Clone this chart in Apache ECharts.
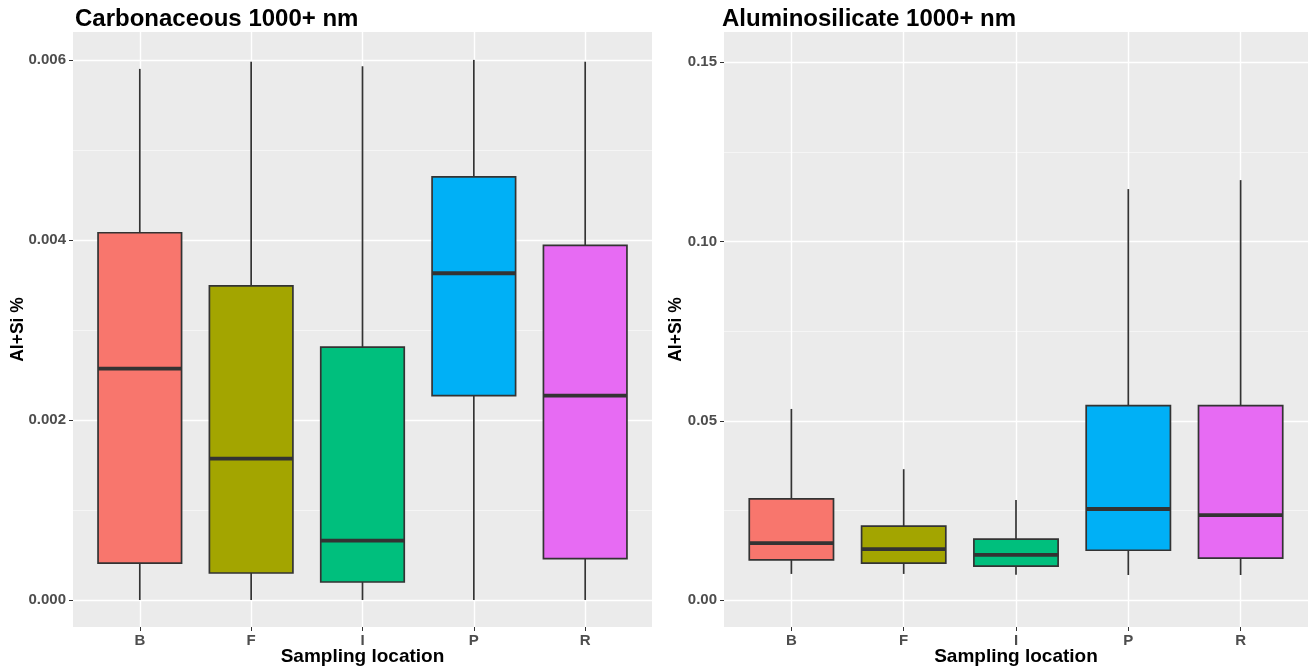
<!DOCTYPE html>
<html>
<head>
<meta charset="utf-8">
<script src="https://cdn.jsdelivr.net/npm/echarts@6/dist/echarts.min.js"></script>
<style>
html,body{margin:0;padding:0;background:#fff;}
#chart{width:1309px;height:672px;}
</style>
</head>
<body>
<div id="chart"></div>
<script>
// ---- data ----
const categories = ['B', 'F', 'I', 'P', 'R'];
const fillColors = ['#F8766D', '#A3A500', '#00BF7D', '#00B0F6', '#E76BF3'];

// Carbonaceous 1000+ nm
const carbMin    = [0.0000, 0.0000, 0.0000, 0.0000, 0.0000];
const carbQ1     = [0.00041, 0.00030, 0.00020, 0.00227, 0.00046];
const carbMedian = [0.00257, 0.00157, 0.00066, 0.00363, 0.00227];
const carbQ3     = [0.00408, 0.00349, 0.00281, 0.00470, 0.00394];
const carbMax    = [0.00590, 0.00598, 0.00593, 0.00600, 0.00598];

// Aluminosilicate 1000+ nm
const alumMin    = [0.0073, 0.0073, 0.0071, 0.0070, 0.0070];
const alumQ1     = [0.0112, 0.0103, 0.0095, 0.0139, 0.0117];
const alumMedian = [0.0159, 0.0142, 0.0126, 0.0254, 0.0237];
const alumQ3     = [0.0282, 0.0206, 0.0170, 0.0542, 0.0542];
const alumMax    = [0.0533, 0.0365, 0.0279, 0.1146, 0.1171];

const carbTicks = [0, 0.002, 0.004, 0.006];
const alumTicks = [0, 0.05, 0.10, 0.15];
const carbLabels = ['0.000', '0.002', '0.004', '0.006'];
const alumLabels = ['0.00', '0.05', '0.10', '0.15'];

const titles = ['Carbonaceous 1000+ nm', 'Aluminosilicate 1000+ nm'];
const xTitle = 'Sampling location';
const yTitle = 'Al+Si %';

// ---- build ----
function rows(mn, q1, md, q3, mx) {
  return categories.map((c, i) => [i, mn[i], q1[i], md[i], q3[i], mx[i]]);
}

function renderBox(params, api) {
  const x = api.value(0);
  const lo = api.coord([x, api.value(1)]);
  const q1 = api.coord([x, api.value(2)]);
  const md = api.coord([x, api.value(3)]);
  const q3 = api.coord([x, api.value(4)]);
  const hi = api.coord([x, api.value(5)]);
  const bw = api.size([0.75, 0])[0];
  const cx = lo[0];
  const stroke = '#333333';
  return {
    type: 'group',
    children: [
      {type: 'line', shape: {x1: cx, y1: hi[1], x2: cx, y2: q3[1]}, style: {stroke, lineWidth: 1.7}},
      {type: 'line', shape: {x1: cx, y1: q1[1], x2: cx, y2: lo[1]}, style: {stroke, lineWidth: 1.7}},
      {type: 'rect', shape: {x: cx - bw / 2, y: q3[1], width: bw, height: q1[1] - q3[1]},
        style: {fill: fillColors[x], stroke, lineWidth: 1.7}},
      {type: 'line', shape: {x1: cx - bw / 2, y1: md[1], x2: cx + bw / 2, y2: md[1]},
        style: {stroke, lineWidth: 3.8}}
    ]
  };
}

const font = '"Liberation Sans", Arial, sans-serif';

function xAxisDef(gi) {
  return {
    gridIndex: gi, type: 'value', min: -0.6, max: 4.6, splitNumber: 5,
    name: xTitle, nameLocation: 'middle', nameGap: 20, nameMoveOverlap: false,
    nameTextStyle: {fontFamily: font, fontWeight: 'bold', fontSize: 19, color: '#000'},
    axisLine: {show: false, onZero: false},
    axisTick: {show: true, length: 4, lineStyle: {color: '#333', width: 1}, customValues: [0, 1, 2, 3, 4]},
    axisLabel: {customValues: [0, 1, 2, 3, 4], margin: 6, fontFamily: font, fontWeight: 'bold', fontSize: 15, color: '#4D4D4D',
      formatter: v => categories[Math.round(v)] || ''},
    splitLine: {show: true, showMinLine: true, showMaxLine: true, lineStyle: {color: '#FFFFFF', width: 1.4}},
    minorTick: {show: false},
    minorSplitLine: {show: false}
  };
}

function yAxisDef(gi, mn, mx, ticks, labels) {
  return {
    gridIndex: gi, type: 'value', min: mn, max: mx, splitNumber: 3,
    name: yTitle, nameLocation: 'middle', nameGap: gi === 0 ? 46 : 39, nameMoveOverlap: false,
    nameTextStyle: {fontFamily: font, fontWeight: 'bold', fontSize: 17.5, color: '#000'},
    axisLine: {show: false, onZero: false},
    axisTick: {show: true, length: 4, lineStyle: {color: '#333', width: 1}, customValues: ticks},
    axisLabel: {customValues: ticks, margin: 7, fontFamily: font, fontWeight: 'bold', fontSize: 15, color: '#4D4D4D',
      formatter: v => {
        const k = ticks.findIndex(t => Math.abs(t - v) < 1e-9);
        return k >= 0 ? labels[k] : '';
      }},
    splitLine: {show: true, showMinLine: true, showMaxLine: true, lineStyle: {color: '#FFFFFF', width: 1.4}},
    minorTick: {show: false, splitNumber: 2},
    minorSplitLine: {show: true, lineStyle: {color: '#F7F7F7', width: 0.8}}
  };
}

const option = {
  animation: false,
  backgroundColor: '#FFFFFF',
  title: [
    {text: titles[0], left: 75, top: 7, padding: 0, textStyle: {fontFamily: font, fontWeight: 'bold', fontSize: 24, color: '#000'}},
    {text: titles[1], left: 722, top: 7, padding: 0, textStyle: {fontFamily: font, fontWeight: 'bold', fontSize: 24, color: '#000'}}
  ],
  grid: [
    {left: 73, top: 32, width: 579, height: 595, show: true, backgroundColor: '#EBEBEB', borderWidth: 0,
      containLabel: false, outerBoundsMode: 'none'},
    {left: 724, top: 32, width: 584, height: 595, show: true, backgroundColor: '#EBEBEB', borderWidth: 0,
      containLabel: false, outerBoundsMode: 'none'}
  ],
  xAxis: [xAxisDef(0), xAxisDef(1)],
  yAxis: [
    yAxisDef(0, -0.0003, 0.00631, carbTicks, carbLabels),
    yAxisDef(1, -0.0075, 0.1584, alumTicks, alumLabels)
  ],
  series: [
    {type: 'custom', xAxisIndex: 0, yAxisIndex: 0, renderItem: renderBox,
      encode: {x: 0, y: [1, 2, 3, 4, 5]}, data: rows(carbMin, carbQ1, carbMedian, carbQ3, carbMax)},
    {type: 'custom', xAxisIndex: 1, yAxisIndex: 1, renderItem: renderBox,
      encode: {x: 0, y: [1, 2, 3, 4, 5]}, data: rows(alumMin, alumQ1, alumMedian, alumQ3, alumMax)}
  ]
};

const chart = echarts.init(document.getElementById('chart'), null, {renderer: 'canvas'});
chart.setOption(option);
</script>
</body>
</html>
